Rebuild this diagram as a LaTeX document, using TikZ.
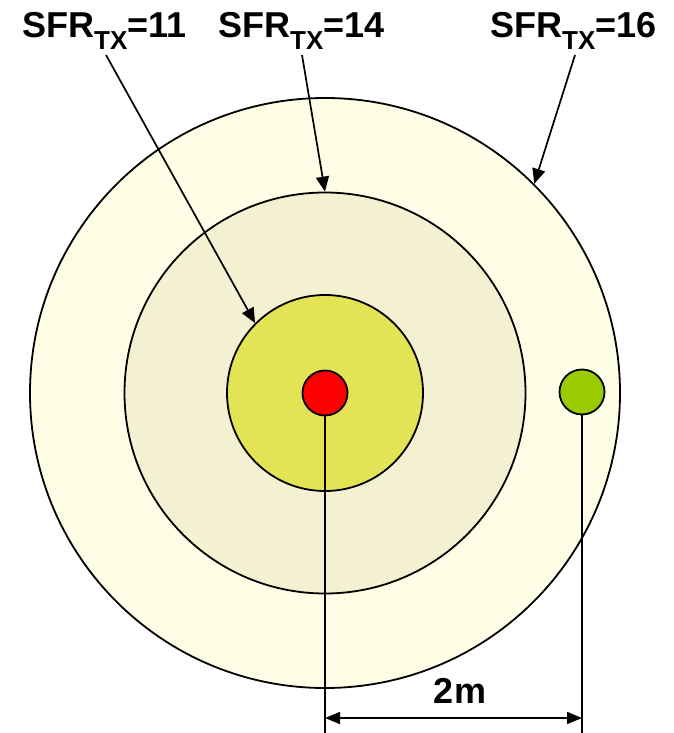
\documentclass[tikz,border=0pt]{standalone}
\usepackage{fontspec}
\setmainfont{Liberation Sans}
\usetikzlibrary{arrows.meta}
\definecolor{outerc}{HTML}{FEFEE6}
\definecolor{midc}{HTML}{F3F1D2}
\definecolor{innerc}{HTML}{E3E356}
\definecolor{redc}{HTML}{FF0000}
\definecolor{greenc}{HTML}{99CC00}
\newcommand{\sfrlab}[1]{SFR\raisebox{-12pt}{\fontsize{26}{26}\selectfont TX}=#1}
\begin{document}
\begin{tikzpicture}[x=1pt,y=-1pt,
  ring/.style={circle,draw=black,line width=1.8pt,inner sep=0pt},
  dot/.style={circle,draw=black,line width=1.8pt,inner sep=0pt,minimum size=45pt},
  lab/.style={font=\fontsize{36}{36}\selectfont\bfseries,anchor=base west,inner sep=0pt},
  arr/.style={line width=1.7pt,-{Triangle[length=15pt,width=13pt]}},
  dim/.style={line width=1.8pt,{Triangle[length=15pt,width=12pt]}-{Triangle[length=15pt,width=12pt]}},
  leader/.style={line width=1.8pt}]
\useasboundingbox (0,0) rectangle (673,733);
\node[ring,fill=outerc,minimum size=590pt] (outer) at (325,393) {};
\node[ring,fill=midc,minimum size=401pt] (middle) at (325,393) {};
\node[ring,fill=innerc,minimum size=196pt] (inner) at (325,393) {};
\coordinate (redfoot) at (325,733);
\coordinate (greenfoot) at (582,733);
\draw[leader] (325,393) -- (redfoot);
\draw[leader] (582,393) -- (greenfoot);
\node[dot,fill=redc] (red) at (325,393) {};
\node[dot,fill=greenc] (green) at (582,392) {};
\coordinate (dl) at (325,718);
\coordinate (dr) at (582,718);
\draw[dim] (dl) -- (dr);
\node[font=\fontsize{36}{36}\selectfont\bfseries,inner sep=0pt] (dimlab) at (460,691) {2m};
\node[lab] (l11) at (22,38) {\sfrlab{11}};
\node[lab] (l14) at (218,38) {\sfrlab{14}};
\node[lab] (l16) at (490,38) {\sfrlab{16}};
\coordinate (s11) at (106,55);
\coordinate (s14) at (302,55);
\coordinate (s16) at (575,55);
\draw[arr] (s11) -- (inner.135);
\draw[arr] (s14) -- (middle.90.6);
\draw[arr] (s16) -- (outer.45);
\end{tikzpicture}
\end{document}
